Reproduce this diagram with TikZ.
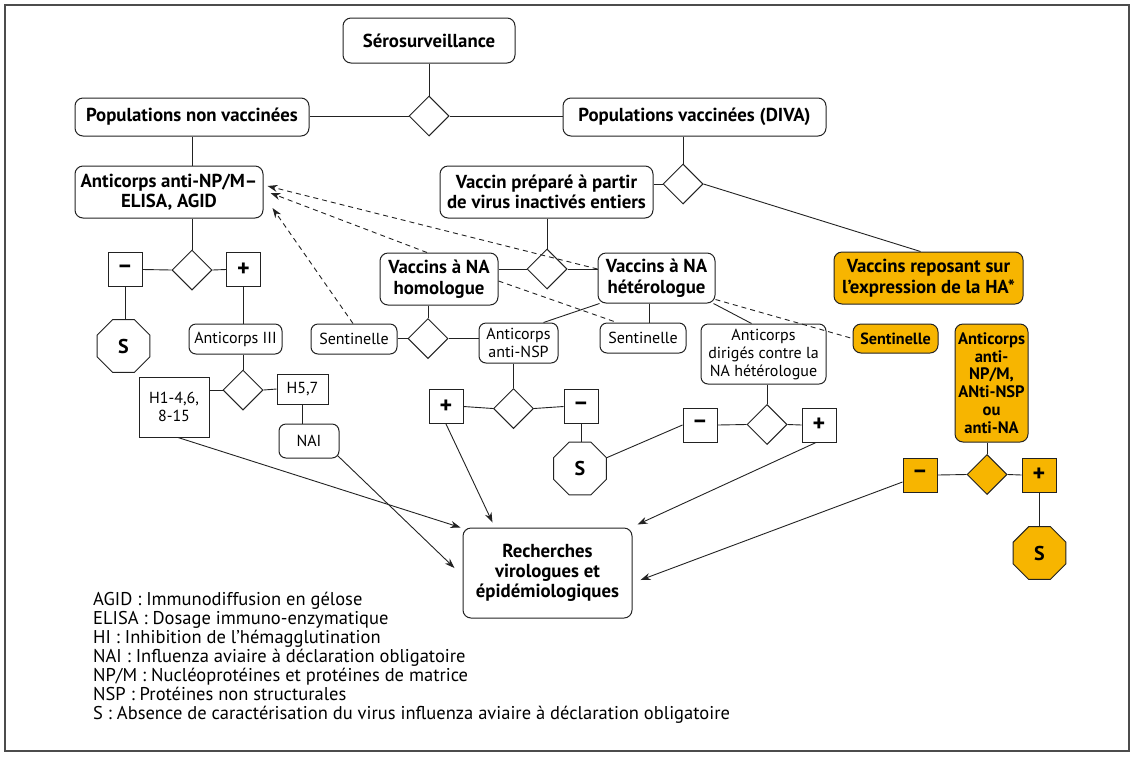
\documentclass[tikz,border=0pt]{standalone}
\usepackage{fontspec}
\setmainfont{PT Sans}
\usetikzlibrary{shapes.geometric,arrows.meta}
\definecolor{orgF}{RGB}{247,181,0}
\definecolor{lineC}{RGB}{34,34,34}
\begin{document}
\begin{tikzpicture}[x=1pt,y=-1pt,
  box/.style={draw=lineC,line width=1pt,rounded corners=8pt,fill=white,align=center,inner sep=1pt,font=\fontsize{18.8}{20.5}\selectfont\bfseries},
  sbox/.style={draw=lineC,line width=1pt,rounded corners=7pt,fill=white,align=center,inner sep=1pt,font=\fontsize{16}{18}\selectfont},
  rbox/.style={draw=lineC,line width=1pt,fill=white,align=center,inner sep=1pt,font=\fontsize{16}{18}\selectfont},
  sq/.style={draw=lineC,line width=1pt,fill=white,minimum size=34pt,inner sep=0pt,font=\fontsize{24}{24}\selectfont\bfseries},
  dia/.style={diamond,draw=lineC,line width=1pt,fill=white,minimum width=40pt,minimum height=40pt,inner sep=0pt},
  oct/.style={regular polygon,regular polygon sides=8,draw=lineC,line width=1pt,fill=white,minimum size=57pt,inner sep=0pt,font=\fontsize{20}{20}\selectfont\bfseries},
  org/.style={fill=orgF},
  conn/.style={draw=lineC,line width=0.9pt},
  dconn/.style={draw=lineC,line width=0.9pt,dash pattern=on 5pt off 4pt},
  arr/.style={-{Stealth[length=10pt,width=7pt]}}
]
\useasboundingbox (0,0) rectangle (1134,756);
\draw[draw=black!70,line width=1.5pt] (5,5) rectangle (1129,751);

% top
\node[box,minimum width=172pt,minimum height=45pt] (sero) at (429,40.5) {Sérosurveillance};
\node[box,minimum width=234pt,minimum height=38pt] (popnon) at (192,117) {Populations non vaccinées};
\node[box,minimum width=263pt,minimum height=38pt] (popvac) at (694.5,117) {Populations vaccinées (DIVA)};
\node[dia] (d1) at (429,116) {};
\node[box,minimum width=188pt,minimum height=52pt] (acnp) at (169,192) {Anticorps anti-NP/M–\\ELISA, AGID};
\node[box,minimum width=213pt,minimum height=52pt] (vprep) at (546.5,192) {Vaccin préparé à partir\\de virus inactivés entiers};
\node[dia] (d2) at (683,184) {};
\node[box,org,minimum width=189pt,minimum height=52pt] (vha) at (928.5,278) {Vaccins reposant sur\\l\symbol{"27}expression de la HA*};
\node[dia] (d3) at (547,269) {};
\node[box,minimum width=118pt,minimum height=52pt] (homo) at (439,279) {Vaccins à NA\\homologue};
\node[box,minimum width=117pt,minimum height=50pt] (hetero) at (656.5,278) {Vaccins à NA\\hétérologue};
\node[dia] (d4) at (428,338.5) {};
\node[sbox,minimum width=86pt,minimum height=30pt] (sent1) at (354,339) {Sentinelle};
\node[sbox,minimum width=79pt,minimum height=40pt] (nsp) at (518.5,343) {Anticorps\\anti-NSP};
\node[sbox,minimum width=86pt,minimum height=30pt] (sent2) at (643,338) {Sentinelle};
\node[sbox,minimum width=125pt,minimum height=60pt] (acdir) at (763.5,354) {Anticorps\\dirigés contre la\\NA hétérologue};
\node[box,org,minimum width=85pt,minimum height=29pt,font=\fontsize{16.2}{18}\selectfont\bfseries] (osent) at (895.5,338.5) {Sentinelle};
\node[box,org,minimum width=73pt,minimum height=118pt,font=\fontsize{16.6}{17.7}\selectfont\bfseries] (oac) at (991.5,383) {Anticorps\\anti-\\NP/M,\\ANti-NSP\\ou\\anti-NA};

% left branch
\node[dia] (d5) at (192,270) {};
\node[sq] (m1) at (125,269.5) {−};
\node[sq] (p1) at (243.5,269.5) {+};
\node[oct] (s1) at (123.5,346) {S};
\node[sbox,minimum width=93pt,minimum height=30pt] (ac3) at (235.5,339) {Anticorps III};
\node[dia] (d6) at (243,390) {};
\node[rbox,minimum width=70pt,minimum height=60pt] (h14) at (174,407) {H1-4,6,\\8-15};
\node[rbox,minimum width=51pt,minimum height=30pt] (h57) at (302.5,389) {H5,7};
\node[sbox,minimum width=60pt,minimum height=34pt] (nai) at (309,441) {NAI};

% middle branch
\node[dia] (d7) at (513.5,408.5) {};
\node[sq] (p2) at (446,406.5) {+};
\node[sq] (m2) at (581,406.5) {−};
\node[oct] (s2) at (580,468.5) {S};
\node[sq] (m3) at (700,425) {−};
\node[dia] (d8) at (767,424.5) {};
\node[sq] (p3) at (819,425) {+};

% orange branch
\node[dia,org] (od) at (987,474.5) {};
\node[sq,org] (om) at (920,475) {−};
\node[sq,org] (op) at (1039,475) {+};
\node[oct,org] (os) at (1039.5,553) {S};

% result
\node[box,minimum width=169pt,minimum height=90pt,font=\fontsize{18.8}{20}\selectfont\bfseries] (rech) at (547.5,573) {Recherches\\virologues et\\épidémiologiques};

% legend
\node[anchor=north west,align=left,inner sep=0pt,font=\fontsize{18.5}{19}\selectfont] (legend) at (93,592) {AGID : Immunodiffusion en gélose\\
ELISA : Dosage immuno-enzymatique\\
HI : Inhibition de l\symbol{"27}hémagglutination\\
NAI : Influenza aviaire à déclaration obligatoire\\
NP/M : Nucléoprotéines et protéines de matrice\\
NSP : Protéines non structurales\\
S : Absence de caractérisation du virus influenza aviaire à déclaration obligatoire};

% connectors (solid)
\path[conn] (sero.south) -- (d1.north);
\path[conn] (d1.west) -- (popnon.east |- d1);
\path[conn] (d1.east) -- (popvac.west |- d1);
\path[conn] (popnon.south) -- (popnon.south |- acnp.north);
\path[conn] (d2.north |- popvac.south) -- (d2.north);
\path[conn] (d2.west) -- (vprep.east |- d2);
\path[conn] (d2.east) -- ([xshift=-8pt]vha.north);
\path[conn] (vprep.south -| d3) -- (d3.north);
\path[conn] (d3.west) -- (homo.east |- d3);
\path[conn] (d3.east) -- (hetero.west |- d3);
\path[conn] (d4.north |- homo.south) -- (d4.north);
\path[conn] (d4.west) -- (sent1.east |- d4);
\path[conn] (d4.east) -- (nsp.west |- d4);
\path[conn] ([xshift=-7.5pt]hetero.south) -- ([xshift=-7.5pt]hetero.south |- sent2.north);
\path[conn] ([xshift=2pt]hetero.south west) -- ([xshift=25pt]nsp.north);
\path[conn] ([xshift=-2pt]hetero.south east) -- ([xshift=-12pt]acdir.north);
\path[conn] (d5.north |- acnp.south) -- (d5.north);
\path[conn] (d5.west) -- (m1.east);
\path[conn] (d5.east) -- (p1.west);
\path[conn] (m1.south) -- (m1.south |- s1.north);
\path[conn] (p1.south) -- (p1.south |- ac3.north);
\path[conn] (d6.north |- ac3.south) -- (d6.north);
\path[conn] (d6.west) -- (h14.east |- d6);
\path[conn] (d6.east) -- (h57.west);
\path[conn] (h57.south) -- (h57.south |- nai.north);
\path[conn] (d7.north |- nsp.south) -- (d7.north);
\path[conn] (d7.west) -- (p2.east);
\path[conn] (d7.east) -- (m2.west);
\path[conn] (m2.south) -- (m2.south |- s2.north);
\path[conn] (s2.22) -- (m3.west);
\path[conn] (m3.east) -- (d8.west);
\path[conn] (d8.east) -- (p3.west);
\path[conn] (d8.north |- acdir.south) -- (d8.north);
\path[conn] (od.north |- oac.south) -- (od.north);
\path[conn] (od.west) -- (om.east);
\path[conn] (od.east) -- (op.west);
\path[conn] (op.south) -- (op.south |- os.north);

% arrows to result
\path[conn,arr] ([xshift=4pt]h14.south) -- ([xshift=-2pt]rech.north west);
\path[conn,arr] ([shift={(-2pt,3pt)}]nai.south east) -- ([shift={(-8pt,5pt)}]rech.west);
\path[conn,arr] (p2.south) -- ([shift={(30pt,5pt)}]rech.north west);
\path[conn,arr] ([xshift=-3pt]p3.south) -- ([shift={(5pt,3pt)}]rech.north east);
\path[conn,arr] ([yshift=-7pt]om.west) -- ([shift={(8pt,-7pt)}]rech.east);

% dashed
\path[dconn,arr] (hetero.west |- d3) -- ([shift={(4pt,6pt)}]acnp.east);
\path[dconn,arr] ([xshift=-12pt]homo.north) -- ([shift={(7pt,-1pt)}]acnp.east);
\path[dconn,arr] ([xshift=-1pt]sent1.north) -- ([shift={(9pt,-16pt)}]acnp.east);
\path[dconn] ([yshift=-2pt]homo.east) -- ([xshift=-26pt]sent2.north);
\path[dconn] ([yshift=4pt]hetero.south east) -- (osent.west);
\end{tikzpicture}
\end{document}
